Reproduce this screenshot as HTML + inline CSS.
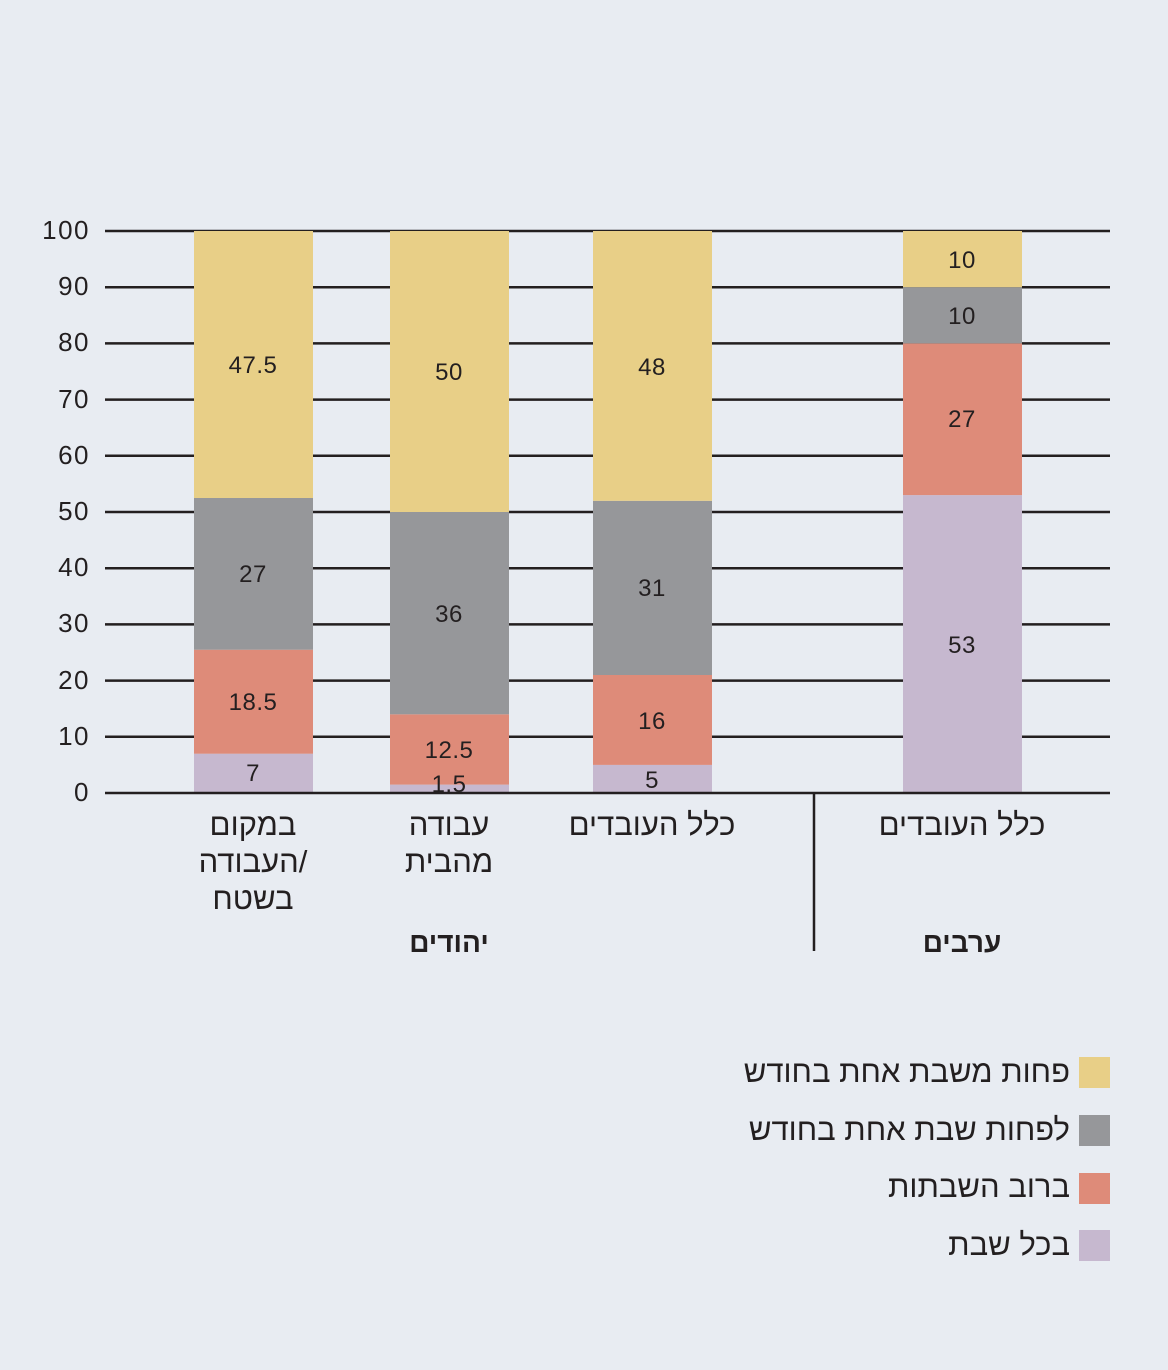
<!DOCTYPE html>
<html><head><meta charset="utf-8"><style>
body{margin:0;background:#e8ecf2;}
svg{display:block;}
text{font-family:"Liberation Sans","Noto Sans CJK SC",sans-serif;fill:#231f20;}
</style></head><body>
<svg width="1168" height="1370" viewBox="0 0 1168 1370" xmlns="http://www.w3.org/2000/svg">
<rect width="1168" height="1370" fill="#e8ecf2"/>
<g stroke="#231f20" stroke-width="2.5">
<line x1="105" x2="1110" y1="231" y2="231"/>
<line x1="105" x2="1110" y1="287.2" y2="287.2"/>
<line x1="105" x2="1110" y1="343.4" y2="343.4"/>
<line x1="105" x2="1110" y1="399.6" y2="399.6"/>
<line x1="105" x2="1110" y1="455.8" y2="455.8"/>
<line x1="105" x2="1110" y1="512" y2="512"/>
<line x1="105" x2="1110" y1="568.2" y2="568.2"/>
<line x1="105" x2="1110" y1="624.4" y2="624.4"/>
<line x1="105" x2="1110" y1="680.6" y2="680.6"/>
<line x1="105" x2="1110" y1="736.8" y2="736.8"/>
</g>
<g font-size="26" text-anchor="end" letter-spacing="1.5">
<text x="90" y="239">100</text><text x="90" y="295">90</text><text x="90" y="351">80</text><text x="90" y="408">70</text><text x="90" y="464">60</text><text x="90" y="520">50</text><text x="90" y="576">40</text><text x="90" y="632">30</text><text x="90" y="689">20</text><text x="90" y="745">10</text><text x="90" y="801">0</text>
</g>
<rect x="194" y="753.7" width="119" height="39.3" fill="#c6b8cf"/>
<rect x="194" y="649.7" width="119" height="104" fill="#de8b79"/>
<rect x="194" y="498" width="119" height="151.7" fill="#96979a"/>
<rect x="194" y="231" width="119" height="267" fill="#e8cf87"/>
<rect x="390" y="784.6" width="119" height="8.4" fill="#c6b8cf"/>
<rect x="390" y="714.3" width="119" height="70.3" fill="#de8b79"/>
<rect x="390" y="512" width="119" height="202.3" fill="#96979a"/>
<rect x="390" y="231" width="119" height="281" fill="#e8cf87"/>
<rect x="593" y="764.9" width="119" height="28.1" fill="#c6b8cf"/>
<rect x="593" y="675" width="119" height="89.9" fill="#de8b79"/>
<rect x="593" y="500.8" width="119" height="174.2" fill="#96979a"/>
<rect x="593" y="231" width="119" height="269.8" fill="#e8cf87"/>
<rect x="903" y="495.1" width="119" height="297.9" fill="#c6b8cf"/>
<rect x="903" y="343.4" width="119" height="151.7" fill="#de8b79"/>
<rect x="903" y="287.2" width="119" height="56.2" fill="#96979a"/>
<rect x="903" y="231" width="119" height="56.2" fill="#e8cf87"/>
<line x1="105" x2="1110" y1="793" y2="793" stroke="#231f20" stroke-width="2.5"/>
<line x1="814" x2="814" y1="793" y2="951" stroke="#231f20" stroke-width="2.5"/>
<g font-size="24" text-anchor="middle" letter-spacing="0.5">
<text x="253" y="373">47.5</text><text x="253" y="582">27</text><text x="253" y="710">18.5</text><text x="253" y="781">7</text>
<text x="449" y="380">50</text><text x="449" y="622">36</text><text x="449" y="758">12.5</text><text x="449" y="792">1.5</text>
<text x="652" y="375">48</text><text x="652" y="596">31</text><text x="652" y="729">16</text><text x="652" y="788">5</text>
<text x="962" y="268">10</text><text x="962" y="324">10</text><text x="962" y="427">27</text><text x="962" y="653">53</text>
</g>
<g font-size="31" text-anchor="middle">
<text x="253" y="835">במקום</text><text x="253" y="872">העבודה/</text><text x="253" y="909">בשטח</text>
<text x="449" y="835">עבודה</text><text x="449" y="872">מהבית</text>
<text x="652" y="835">כלל העובדים</text>
<text x="962" y="835">כלל העובדים</text>
<text x="449" y="952" font-weight="bold" font-size="28">יהודים</text>
<text x="962" y="952" font-weight="bold" font-size="28">ערבים</text>
</g>
<rect x="1079" y="1057" width="31" height="31" fill="#e8cf87"/>
<rect x="1079" y="1115" width="31" height="31" fill="#96979a"/>
<rect x="1079" y="1173" width="31" height="31" fill="#de8b79"/>
<rect x="1079" y="1230" width="31" height="31" fill="#c6b8cf"/>
<g font-size="31" text-anchor="end">
<text x="1070" y="1082">פחות משבת אחת בחודש</text>
<text x="1070" y="1140">לפחות שבת אחת בחודש</text>
<text x="1070" y="1197">ברוב השבתות</text>
<text x="1070" y="1255">בכל שבת</text>
</g>
</svg>
</body></html>
